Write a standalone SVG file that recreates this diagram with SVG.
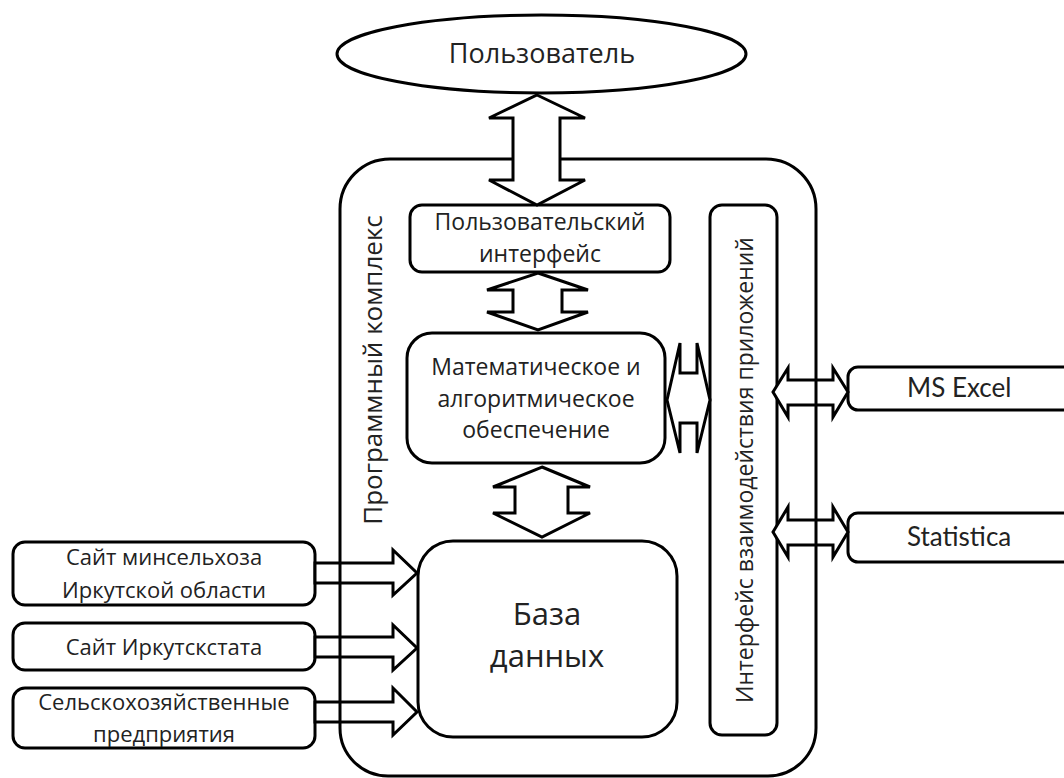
<svg xmlns="http://www.w3.org/2000/svg" width="1064" height="778" viewBox="0 0 1064 778">
<style>
.b{fill:#fff;stroke:#000;stroke-width:3}
.c{fill:none;stroke:#000;stroke-width:3}
.a{fill:#fff;stroke:#000;stroke-width:3;stroke-linejoin:miter}
.t{font-family:"Open Sans","Noto Sans",sans-serif;fill:#222;text-anchor:middle}
.l{font-family:Lato,"Open Sans",sans-serif;fill:#222}
</style>
<rect width="1064" height="778" fill="#fff"/>
<g id="user">
<ellipse class="b" cx="541.5" cy="54" rx="204.5" ry="39"/>
<text class="t" x="542" y="63" font-size="27">Пользователь</text>
</g>
<g id="api">
<rect class="b" x="710" y="205" width="67" height="530" rx="12"/>
<text class="t" font-size="23" transform="translate(753,470) rotate(-90)">Интерфейс взаимодействия приложений</text>
</g>
<g id="ui">
<rect class="b" x="410" y="205" width="260" height="67" rx="12"/>
<text class="t" x="540" y="230" font-size="23">Пользовательский</text>
<text class="t" x="540" y="262" font-size="23">интерфейс</text>
</g>
<g id="math">
<rect class="b" x="407" y="333" width="258" height="130" rx="25"/>
<text class="t" x="536" y="375" font-size="23">Математическое и</text>
<text class="t" x="536" y="407" font-size="23">алгоритмическое</text>
<text class="t" x="536" y="438" font-size="23">обеспечение</text>
</g>
<g id="db">
<rect class="b" x="418" y="541" width="259" height="196" rx="35"/>
<text class="t" x="547" y="625" font-size="31">База</text>
<text class="t" x="547" y="667" font-size="31">данных</text>
</g>
<g id="src1">
<rect class="b" x="13" y="542" width="302" height="63" rx="12"/>
<text class="t" x="164" y="565" font-size="22">Сайт минсельхоза</text>
<text class="t" x="164" y="598" font-size="22">Иркутской области</text>
</g>
<g id="src2">
<rect class="b" x="13" y="623" width="302" height="47" rx="12"/>
<text class="t" x="164" y="655" font-size="22">Сайт Иркутскстата</text>
</g>
<g id="src3">
<rect class="b" x="13" y="688" width="302" height="60" rx="12"/>
<text class="t" x="164" y="710" font-size="22">Сельскохозяйственные</text>
<text class="t" x="164" y="742" font-size="22">предприятия</text>
</g>
<g id="excel">
<rect class="b" x="848" y="367" width="230" height="43" rx="10"/>
<text class="l" x="907" y="397" font-size="26">MS Excel</text>
</g>
<g id="statistica">
<rect class="b" x="848" y="513" width="230" height="49" rx="10"/>
<text class="l" x="907" y="546" font-size="26">Statistica</text>
</g>
<g id="connectors">
<polygon class="a" points="537,95 585,118 560,118 560,180 585,180 537,205 489,180 513,180 513,118 489,118"/>
<polygon class="a" points="538,273 588,290 562,290 562,312 588,312 538,330 487,312 513,312 513,290 487,290"/>
<polygon class="a" points="542,467 590,487 568,487 568,513 590,513 542,537 493,513 515,513 515,487 493,487"/>
<polygon class="a" points="667,400 680,343 680,373 697,373 697,343 710,400 697,453 697,423 680,423 680,453"/>
<polygon class="a" points="773,392 788,368 788,380 833,380 833,368 848,392 833,417 833,405 788,405 788,417"/>
<polygon class="a" points="773,532 788,507 788,520 833,520 833,507 848,532 833,557 833,545 788,545 788,557"/>
<polygon class="a" points="315,563 393,563 393,550 417,573 393,595 393,583 315,583"/>
<polygon class="a" points="315,637 393,637 393,625 417,648 393,670 393,657 315,657"/>
<polygon class="a" points="315,702 393,702 393,688 417,712 393,735 393,722 315,722"/>
</g>
<g id="complex">
<path class="c" d="M513,159 H390 A50 50 0 0 0 340,209 V728 A48 48 0 0 0 388,776 H768 A48 48 0 0 0 816,728 V209 A50 50 0 0 0 766,159 H560"/>
<text class="t" font-size="26" transform="translate(382,370) rotate(-90)">Программный комплекс</text>
</g>
</svg>
